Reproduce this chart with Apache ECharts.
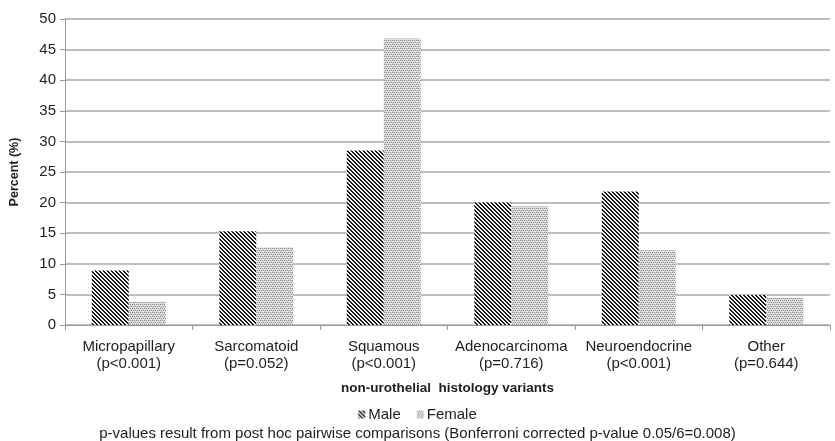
<!DOCTYPE html>
<html>
<head>
<meta charset="utf-8">
<script src="https://cdn.jsdelivr.net/npm/echarts@6/dist/echarts.min.js"></script>
<style>
  html, body { margin: 0; padding: 0; background: #fff; }
  #chart { width: 835px; height: 441px; }
</style>
</head>
<body>
<div id="chart"></div>
<script>
const categories = [
  'Micropapillary\n(p<0.001)',
  'Sarcomatoid\n(p=0.052)',
  'Squamous\n(p<0.001)',
  'Adenocarcinoma\n(p=0.716)',
  'Neuroendocrine\n(p<0.001)',
  'Other\n(p=0.644)'
]
const maleValues = [8.9, 15.3, 28.5, 20.0, 21.8, 4.9]
const femaleValues = [3.8, 12.7, 46.8, 19.4, 12.2, 4.5]
const yTicks = [0, 5, 10, 15, 20, 25, 30, 35, 40, 45, 50]

// diagonal stripes for male bars
function stripePattern() {
  const c = document.createElement('canvas')
  c.width = 4; c.height = 4
  const ctx = c.getContext('2d')
  ctx.fillStyle = '#f4f4f4'
  ctx.fillRect(0, 0, 4, 4)
  ctx.fillStyle = '#1a1a1a'
  for (let i = 0; i < 4; i++) {
    ctx.fillRect(i, i, 1, 1)
    ctx.fillRect((i + 1) % 4, i, 1, 1)
  }
  return c
}

// fine grey dots for female bars
function dotPattern() {
  const c = document.createElement('canvas')
  c.width = 4; c.height = 4
  const ctx = c.getContext('2d')
  ctx.fillStyle = '#d8d8d8'
  ctx.fillRect(0, 0, 4, 4)
  ctx.fillStyle = '#8a8a8a'
  ctx.fillRect(0, 0, 1, 1)
  ctx.fillRect(2, 0, 1, 1)
  ctx.fillRect(1, 2, 1, 1)
  ctx.fillRect(3, 2, 1, 1)
  ctx.fillStyle = '#ffffff'
  ctx.fillRect(1, 1, 1, 1)
  ctx.fillRect(3, 3, 1, 1)
  return c
}

const chart = echarts.init(document.getElementById('chart'), null, { renderer: 'canvas' })

const textColor = '#1e1e1e'
const font = 'Liberation Sans, Arial, sans-serif'

chart.setOption({
  animation: false,
  backgroundColor: '#fff',
  textStyle: { fontFamily: font, color: textColor },
  grid: { left: 62, right: 5, top: 19, bottom: 116 },
  title: {
    text: 'p-values result from post hoc pairwise comparisons (Bonferroni corrected p-value 0.05/6=0.008)',
    left: 'center',
    top: 426,
    padding: 0,
    textStyle: { fontSize: 15, fontWeight: 'normal', color: textColor, fontFamily: font }
  },
  legend: {
    data: ['Male', 'Female'],
    top: 402,
    left: 'center',
    itemWidth: 7,
    itemHeight: 8,
    itemGap: 16,
    icon: 'rect',
    textStyle: { fontSize: 15, color: textColor, fontFamily: font, padding: [0, 0, 0, -2] }
  },
  xAxis: {
    type: 'category',
    data: categories,
    name: 'non-urothelial  histology variants',
    nameLocation: 'middle',
    nameGap: 56,
    nameTextStyle: { fontSize: 13.5, fontWeight: 'bold', color: textColor, fontFamily: font },
    axisLine: { lineStyle: { color: '#9a9a9a', width: 1 } },
    axisTick: { show: true, length: 5, lineStyle: { color: '#9a9a9a' } },
    axisLabel: { interval: 0, fontSize: 15, color: textColor, lineHeight: 17, margin: 13, fontFamily: font }
  },
  yAxis: {
    type: 'value',
    min: 0,
    max: 50,
    interval: 5,
    name: 'Percent (%)',
    nameLocation: 'middle',
    nameGap: 44,
    nameTextStyle: { fontSize: 12.5, fontWeight: 'bold', color: textColor, fontFamily: font },
    axisLine: { show: true, lineStyle: { color: '#9a9a9a' } },
    axisTick: { show: true, length: 5, lineStyle: { color: '#9a9a9a' } },
    splitLine: { lineStyle: { color: '#a8a8a8', width: 1.5 } },
    axisLabel: {
      fontSize: 15, color: textColor, margin: 9, fontFamily: font,
      formatter: v => yTicks.includes(v) ? String(v) : ''
    }
  },
  series: [
    {
      name: 'Male',
      type: 'bar',
      data: maleValues,
      barGap: '0%',
      barCategoryGap: '42%',
      itemStyle: { color: { image: stripePattern(), repeat: 'repeat' } }
    },
    {
      name: 'Female',
      type: 'bar',
      data: femaleValues,
      itemStyle: { color: { image: dotPattern(), repeat: 'repeat' } }
    }
  ]
})
</script>
</body>
</html>
